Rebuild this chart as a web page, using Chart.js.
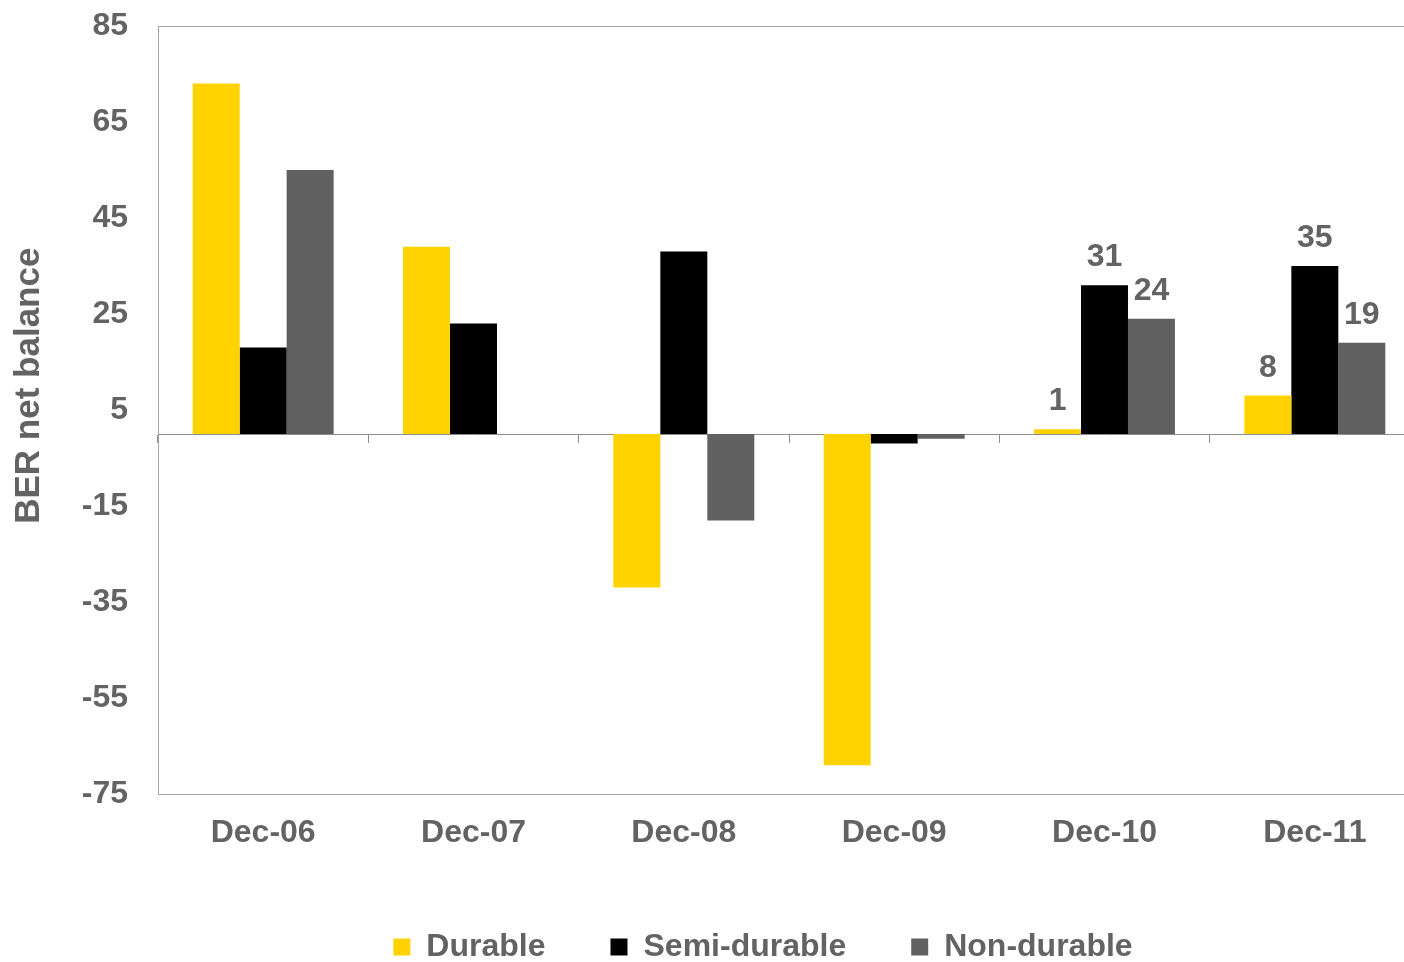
<!DOCTYPE html>
<html>
<head>
<meta charset="utf-8">
<title>BER net balance</title>
<script src="https://cdn.jsdelivr.net/npm/chart.js@4.4.1/dist/chart.umd.min.js"></script>
<style>
  html, body { margin: 0; padding: 0; background: #ffffff; overflow: hidden; }
  /* the plot runs slightly past the right edge of the window */
  #wrap { width: 1420px; height: 962px; position: relative; }
</style>
</head>
<body>
<div id="wrap"><canvas id="chart"></canvas></div>
<script>
// Survey periods
const categories = ['Dec-06', 'Dec-07', 'Dec-08', 'Dec-09', 'Dec-10', 'Dec-11'];

// Net balances by goods type
const durable     = [73, 39, -32, -69, 1, 8];
const semiDurable = [18, 23, 38, -2, 31, 35];
const nonDurable  = [55, 0, -18, -1, 24, 19];

// Periods whose bars carry value labels
const labelledCategories = ['Dec-10', 'Dec-11'];

// Value axis range and step
const yMin = -75;
const yMax = 85;
const yStep = 20;

const FONT = '"Liberation Sans", Arial, Helvetica, sans-serif';
const TEXT = '#636363';
const FRAME = '#a6a6a6';
const ZERO_LINE = '#8c8c8c';

// Writes the values above the bars of the labelled periods
const valueLabels = {
  id: 'valueLabels',
  afterDatasetsDraw(chart) {
    const ctx = chart.ctx;
    ctx.save();
    ctx.font = 'bold 32px ' + FONT;
    ctx.fillStyle = TEXT;
    ctx.textAlign = 'center';
    ctx.textBaseline = 'alphabetic';
    chart.data.datasets.forEach((ds, di) => {
      const meta = chart.getDatasetMeta(di);
      meta.data.forEach((bar, i) => {
        if (!labelledCategories.includes(chart.data.labels[i])) return;
        ctx.fillText(String(ds.data[i]), bar.x, bar.y - 19);
      });
    });
    ctx.restore();
  }
};

// Nudges the legend row a little to the left of the plot centre
const legendShift = {
  id: 'legendShift',
  afterLayout(chart) {
    const lg = chart.legend;
    if (lg) { lg.left -= 26; lg.right -= 26; }
  }
};

new Chart(document.getElementById('chart'), {
  type: 'bar',
  data: {
    labels: categories,
    datasets: [
      { label: 'Durable', data: durable, backgroundColor: '#ffd200', borderWidth: 0 },
      { label: 'Semi-durable', data: semiDurable, backgroundColor: '#000000', borderWidth: 0 },
      { label: 'Non-durable', data: nonDurable, backgroundColor: '#606060', borderWidth: 0 }
    ]
  },
  plugins: [valueLabels, legendShift],
  options: {
    responsive: true,
    maintainAspectRatio: false,
    devicePixelRatio: 1,
    animation: false,
    datasets: {
      bar: { categoryPercentage: 0.67, barPercentage: 1.0, xAxisID: 'x', yAxisID: 'y' }
    },
    layout: { padding: { top: 26, right: 0, bottom: -11, left: 0 } },
    plugins: {
      tooltip: { enabled: false },
      legend: {
        position: 'bottom',
        fullSize: false,
        labels: {
          boxWidth: 17,
          boxHeight: 17,
          padding: 65,
          color: TEXT,
          font: { family: FONT, size: 32, weight: 'bold' }
        }
      }
    },
    scales: {
      x: {
        type: 'category',
        axis: 'x',
        position: 'bottom',
        offset: true,
        grid: { display: false, drawTicks: false },
        border: { display: true, color: FRAME, width: 1 },
        ticks: {
          padding: 20,
          color: TEXT,
          maxRotation: 0,
          font: { family: FONT, size: 32, weight: 'bold' }
        },
        afterFit(scale) { scale.height = 72; }
      },
      zeroAxis: {
        type: 'category',
        axis: 'x',
        position: { y: 0 },
        offset: true,
        z: 1,
        grid: {
          offset: true,
          drawOnChartArea: false,
          drawTicks: true,
          tickLength: 8,
          color: ZERO_LINE
        },
        border: { display: true, color: ZERO_LINE, width: 1 },
        ticks: { display: false }
      },
      y: {
        type: 'linear',
        axis: 'y',
        position: 'left',
        min: yMin,
        max: yMax,
        ticks: {
          stepSize: yStep,
          padding: 30,
          color: TEXT,
          font: { family: FONT, size: 32, weight: 'bold' }
        },
        grid: {
          drawTicks: false,
          color: (ctx) => (ctx.tick && ctx.tick.value === yMax) ? FRAME : 'rgba(0,0,0,0)'
        },
        border: { display: true, color: FRAME, width: 1 },
        title: {
          display: true,
          text: '     BER net balance',
          color: TEXT,
          padding: { top: 8, bottom: 0 },
          font: { family: FONT, size: 35, weight: 'bold' }
        },
        afterFit(scale) {
          scale.width = 158;
          scale.paddingTop = 0;
          scale.paddingBottom = 0;
        }
      }
    }
  }
});
</script>
</body>
</html>
